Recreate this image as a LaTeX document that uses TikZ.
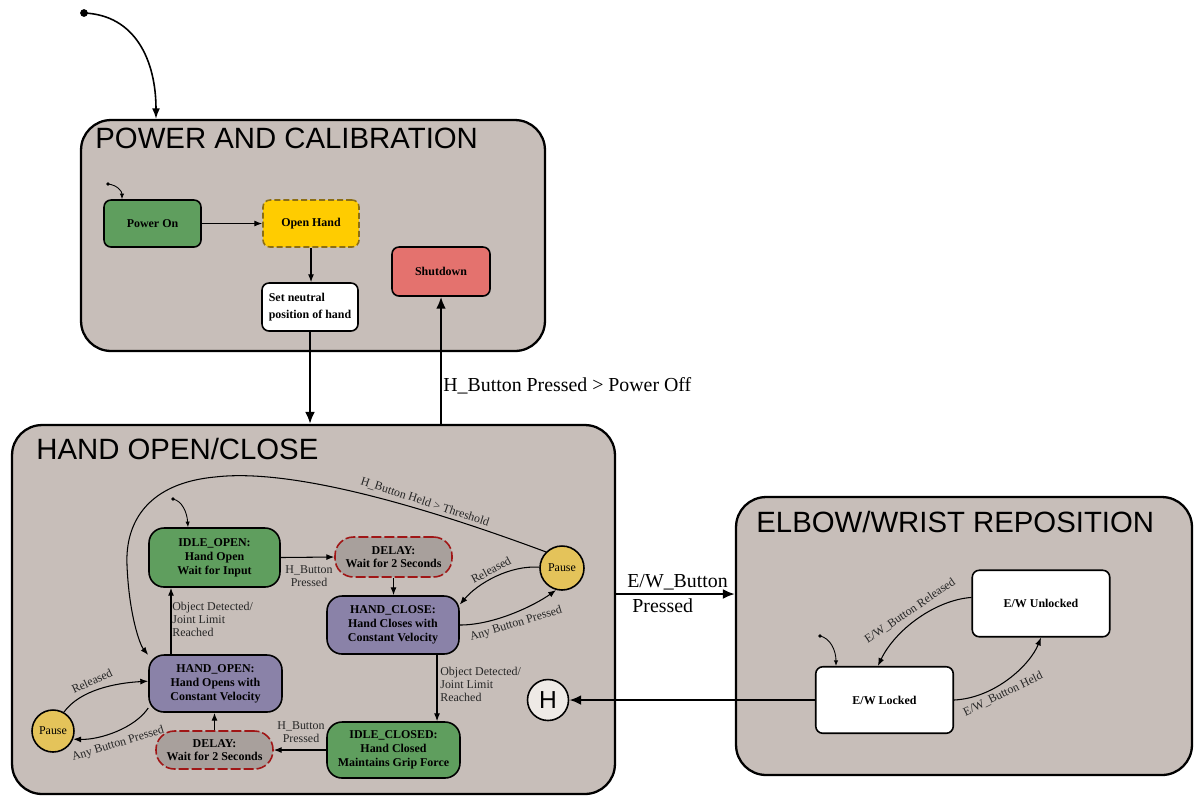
\documentclass[tikz,border=0pt]{standalone}
\usepackage{fontspec}
\setmainfont{Liberation Serif}
\newfontfamily\titlefont{Liberation Sans}
\usetikzlibrary{arrows.meta,calc}

\definecolor{panelfill}{RGB}{199,190,185}
\definecolor{greenfill}{RGB}{95,158,94}
\definecolor{yellowfill}{RGB}{255,204,0}
\definecolor{openborder}{RGB}{140,110,20}
\definecolor{redfill}{RGB}{228,114,110}
\definecolor{purplefill}{RGB}{138,130,168}
\definecolor{delayfill}{RGB}{168,160,156}
\definecolor{delayred}{RGB}{160,22,22}
\definecolor{pausefill}{RGB}{228,195,90}
\definecolor{histfill}{RGB}{238,234,230}

\begin{document}
\begin{tikzpicture}[x=0.02cm,y=-0.02cm,
  panel/.style={draw=black, line width=1.3pt, fill=panelfill, rounded corners=0.6cm, inner sep=0pt},
  paneltitle/.style={anchor=base west, font=\titlefont\fontsize{16.7}{20}\selectfont, inner sep=0pt},
  pbox/.style={draw=black, line width=0.9pt, rounded corners=0.14cm, align=center, inner sep=1pt,
    font=\bfseries\fontsize{6.8}{7.9}\selectfont},
  hstate/.style={pbox, rounded corners=0.3cm},
  delaybox/.style={hstate, fill=delayfill, draw=delayred, dash pattern=on 5.7pt off 1.7pt,
    rounded corners=0.37cm, font=\bfseries\fontsize{6.8}{7.2}\selectfont},
  ewbox/.style={pbox, fill=white, minimum width=2.75cm, minimum height=1.33cm},
  pausenode/.style={circle, draw=black, line width=0.9pt, fill=pausefill, inner sep=0pt,
    font=\fontsize{6.8}{7}\selectfont},
  tarr/.style={-{Latex[length=4.5pt,width=3.4pt]}, line width=0.6pt},
  Tarr/.style={-{Latex[length=6.8pt,width=5.7pt]}, line width=1.5pt},
  initarr/.style={-{Latex[length=3.2pt,width=2.5pt]}, line width=0.5pt},
  lbl/.style={font=\fontsize{6.8}{7.4}\selectfont, inner sep=0pt, text=black!85},
  biglbl/.style={font=\fontsize{11.3}{13}\selectfont, inner sep=0pt}]

\useasboundingbox (0,0) rectangle (1195,796);

% ---------- panels ----------
\node[panel, minimum width=9.28cm, minimum height=4.62cm] (power) at (313,235.5) {};
\node[panel, minimum width=12.06cm, minimum height=7.38cm] (hand) at (313.5,609.5) {};
\node[panel, minimum width=9.12cm, minimum height=5.56cm] (elbow) at (964,636) {};

\node[paneltitle] (tpower) at (95,148) {POWER AND CALIBRATION};
\node[paneltitle] (thand) at (36,459) {HAND OPEN/CLOSE};
\node[paneltitle] (telbow) at (756,532) {ELBOW/WRIST REPOSITION};

% ---------- global start ----------
\coordinate (topinit) at (84,13);
\fill (topinit) circle[radius=2.2pt];
\draw[-{Latex[length=6pt,width=4.5pt]}, line width=0.9pt]
  (topinit) .. controls (135,15) and (156,60) .. (156,0 |- power.north);

% ---------- power and calibration ----------
\node[pbox, fill=greenfill, minimum width=1.94cm, minimum height=0.94cm] (pon) at (152.5,223.5) {Power On};
\node[pbox, fill=yellowfill, draw=openborder, dash pattern=on 3.4pt off 1.7pt,
  minimum width=1.92cm, minimum height=0.94cm] (ohand) at (311,223.5) {Open Hand};
\node[pbox, fill=white, align=left, minimum width=1.92cm, minimum height=0.96cm,
  font=\bfseries\fontsize{6.8}{9.6}\selectfont] (neutral) at (310,307) {Set neutral\\position of hand};
\node[pbox, fill=redfill, minimum width=1.96cm, minimum height=0.98cm] (shut) at (441,271.5) {Shutdown};

\coordinate (pinit) at (108,184);
\fill (pinit) circle[radius=1.1pt];
\draw[initarr] (pinit) .. controls (117,185) and (122,191) .. (122,0 |- pon.north);

\draw[tarr] (pon.east) -- (ohand.west);
\draw[tarr] (ohand.south) -- (ohand.south |- neutral.north);

\draw[Tarr] (neutral.south) -- (neutral.south |- hand.north);
\draw[Tarr] (shut.south |- hand.north) -- (shut.south);
\node[biglbl, anchor=west] (lpoweroff) at (443,386) {H\_Button Pressed > Power Off};

% ---------- hand open / close ----------
\node[hstate, fill=greenfill, minimum width=2.62cm, minimum height=1.18cm] (iopen) at (214.5,557.5)
  {IDLE\_OPEN:\\Hand Open\\Wait for Input};
\node[delaybox, minimum width=2.34cm, minimum height=0.80cm] (delay1) at (393.5,557)
  {DELAY:\\Wait for 2 Seconds};
\node[hstate, fill=purplefill, minimum width=2.64cm, minimum height=1.16cm] (hclose) at (393,625)
  {HAND\_CLOSE:\\Hand Closes with\\Constant Velocity};
\node[pausenode, minimum size=0.88cm] (pR) at (562,568) {Pause};
\node[hstate, fill=purplefill, minimum width=2.66cm, minimum height=1.14cm] (hopen) at (215.5,683.5)
  {HAND\_OPEN:\\Hand Opens with\\Constant Velocity};
\node[pausenode, minimum size=0.84cm] (pL) at (53,731) {Pause};
\node[delaybox, minimum width=2.34cm, minimum height=0.76cm] (delay2) at (214.5,750)
  {DELAY:\\Wait for 2 Seconds};
\node[hstate, fill=greenfill, minimum width=2.66cm, minimum height=1.12cm] (iclosed) at (393.5,750)
  {IDLE\_CLOSED:\\Hand Closed\\Maintains Grip Force};
\node[circle, draw=black, line width=0.9pt, fill=histfill, minimum size=0.82cm, inner sep=0pt,
  font=\titlefont\fontsize{14}{14}\selectfont] (hist) at (548,700) {H};

\coordinate (hinit) at (173,499);
\fill (hinit) circle[radius=1.1pt];
\draw[initarr] (hinit) .. controls (182,501) and (187,512) .. (188,0 |- iopen.north);

\draw[tarr] (iopen.east) -- (delay1.west);
\node[lbl, align=center] (l1) at (309,576) {H\_Button\\Pressed};
\draw[tarr] (delay1.south) -- (delay1.south |- hclose.north);

\draw[tarr] (hclose.east) .. controls (495,625) and (535,605) .. (pR.-105);
\node[lbl, rotate=17] (l2) at (516,624) {Any Button Pressed};
\draw[tarr] (pR.178) .. controls (510,565) and (478,583) .. (hclose.17);
\node[lbl, rotate=28] (l3) at (491,570) {Released};

\draw[tarr] (pR.135) .. controls (420,505) and (290,468) .. (215,477)
  .. controls (150,483) and (125,520) .. (127,565)
  .. controls (129,615) and (140,645) .. (hopen.157);
\node[lbl, rotate=-18] (l4) at (425,502) {H\_Button Held > Threshold};

\draw[tarr] (171,0 |- hopen.north) -- (171,0 |- iopen.south);
\node[lbl, anchor=west, align=left] (l5) at (172,619) {Object Detected/\\Joint Limit\\Reached};
\draw[tarr] (437,0 |- hclose.south) -- (437,0 |- iclosed.north);
\node[lbl, anchor=west, align=left] (l6) at (440,684) {Object Detected/\\Joint Limit\\Reached};

\draw[tarr] (iclosed.west) -- (delay2.east);
\node[lbl, align=center] (l7) at (301,732) {H\_Button\\Pressed};
\draw[tarr] (delay2.north) -- (delay2.north |- hopen.south);

\draw[tarr] (hopen.200) .. controls (135,728) and (100,740) .. (pL.-22);
\node[lbl, rotate=17] (l8) at (118,744) {Any Button Pressed};
\draw[tarr] (pL.60) .. controls (80,690) and (115,683) .. (hopen.178);
\node[lbl, rotate=25] (l9) at (92,681) {Released};

% ---------- elbow / wrist ----------
\node[ewbox] (ewu) at (1041,603.5) {E/W Unlocked};
\node[ewbox] (ewl) at (884.5,700) {E/W Locked};

\coordinate (ewinit) at (820,636);
\fill (ewinit) circle[radius=1.1pt];
\draw[initarr] (ewinit) .. controls (830,638) and (836,650) .. (836,0 |- ewl.north);

\draw[tarr] (ewu.175) .. controls (935,600) and (895,630) .. (ewl.101);
\node[lbl, rotate=34] (l10) at (910,611) {E/W\_Button Released};
\draw[tarr] (ewl.east) .. controls (995,698) and (1030,665) .. (ewu.south);
\node[lbl, rotate=26] (l11) at (1003,694) {E/W\_Button Held};

% ---------- links between panels ----------
\coordinate (ewy) at (0,594);
\draw[Tarr] (hand.east |- ewy) -- (elbow.west |- ewy);
\node[biglbl, anchor=west] (l12) at (627,582) {E/W\_Button};
\node[biglbl, anchor=west] (l13) at (632,606) {Pressed};
\draw[Tarr] (ewl.west) -- (hist.east);

\end{tikzpicture}
\end{document}
